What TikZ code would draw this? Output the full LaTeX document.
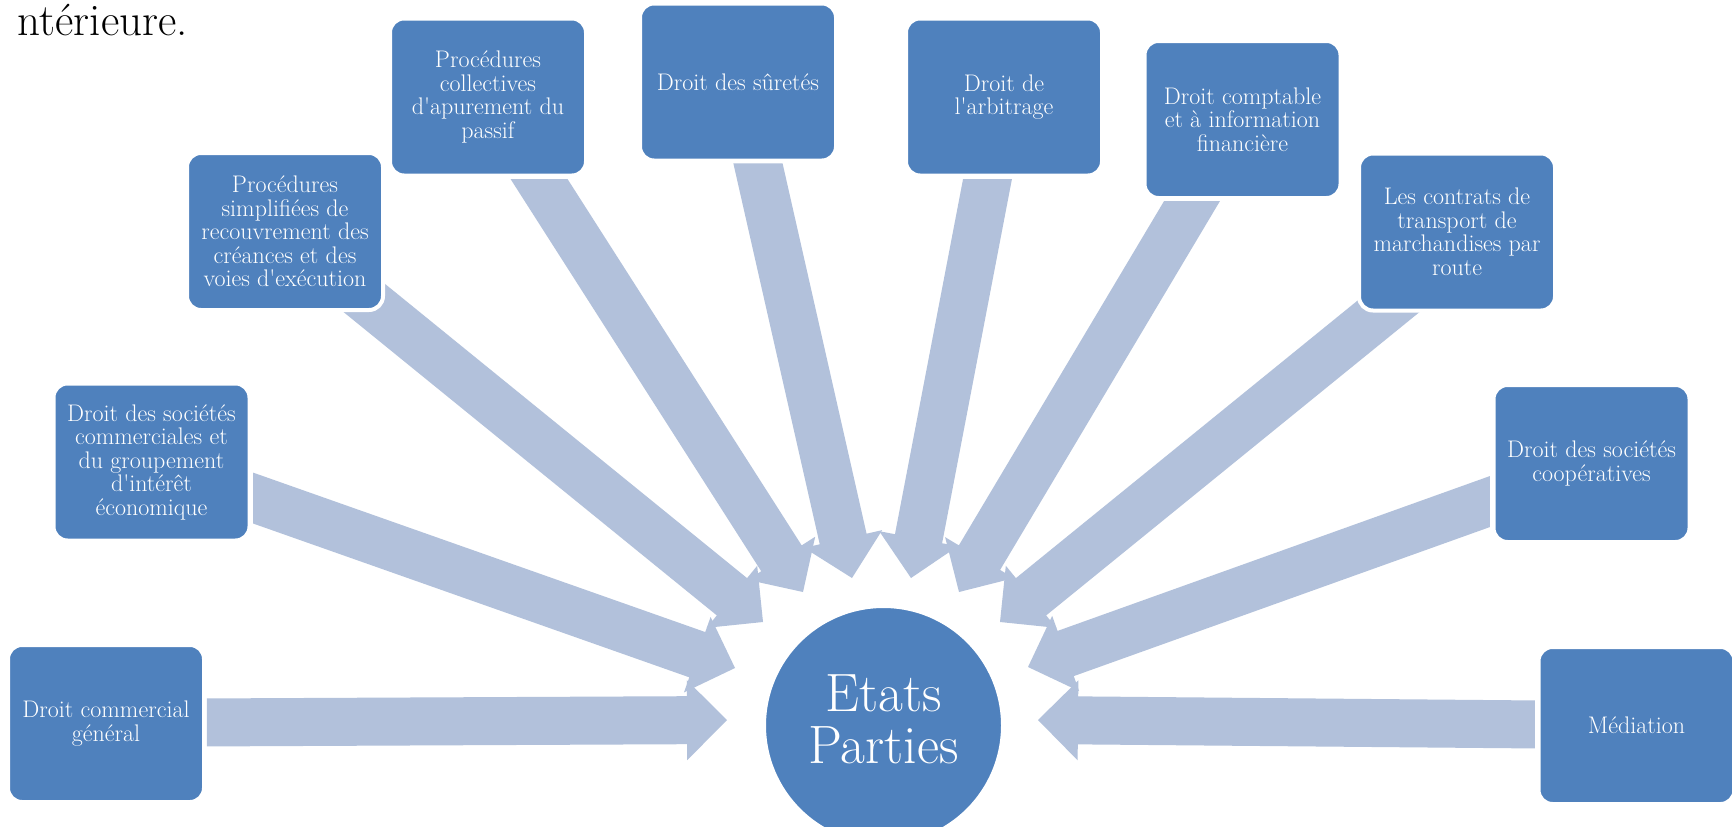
\documentclass[tikz,border=0pt]{standalone}
\usetikzlibrary{calc}
\definecolor{boxblue}{RGB}{79,129,189}
\definecolor{arrowblue}{RGB}{178,193,219}
\newcommand{\bigarrow}[3]{%
  \coordinate (bhA) at ($(#2)!40pt!(#1)$);
  \coordinate (bsA) at ($(bhA)!24pt!90:(#2)$);
  \coordinate (bsB) at ($(bhA)!24pt!-90:(#2)$);
  \coordinate (bwA) at ($(bhA)!40pt!90:(#2)$);
  \coordinate (bwB) at ($(bhA)!40pt!-90:(#2)$);
  \coordinate (btA) at ($(#1)!24pt!90:(#2)$);
  \coordinate (btB) at ($(#1)!24pt!-90:(#2)$);
  \coordinate (bcut) at ($(#1)+(#3)$);
  \coordinate (bcA) at (intersection of btA--bsA and #1--bcut);
  \coordinate (bcB) at (intersection of btB--bsB and #1--bcut);
  \fill[arrowblue] (bcA) -- (bsA) -- (bwA) -- (#2) -- (bwB) -- (bsB) -- (bcB) -- cycle;
}
\tikzset{
  topic/.style={rectangle, rounded corners=14pt, fill=boxblue, draw=white, line width=4pt,
    minimum width=196pt, minimum height=157pt, inner sep=2pt, text=white, align=center,
    font=\fontsize{24}{23.5}\selectfont},
  hub/.style={circle, fill=boxblue, draw=white, line width=4pt, minimum size=239pt,
    inner sep=0pt},
  hubtext/.style={text=white, align=center, inner sep=0pt, font=\fontsize{54}{52}\selectfont}
}
\begin{document}
\begin{tikzpicture}[x=1pt,y=-1pt]
\useasboundingbox (0,0) rectangle (1732,827);
\fill[white] (0,0) rectangle (1732,827);

% arrow tails and tips
\coordinate (t1) at (207,722.5);  \coordinate (p1) at (727,720);
\coordinate (t2) at (253,498);    \coordinate (p2) at (735,668);
\coordinate (t3) at (320,262);    \coordinate (p3) at (763,622);
\coordinate (t4) at (539,179);    \coordinate (p4) at (803,592);
\coordinate (t5) at (758,163.5);  \coordinate (p5) at (852,578);
\coordinate (t6) at (987.5,179);  \coordinate (p6) at (911,578);
\coordinate (t7) at (1192,201);   \coordinate (p7) at (959,592);
\coordinate (t8) at (1443,262);   \coordinate (p8) at (1000,622);
\coordinate (t9) at (1490,501.5); \coordinate (p9) at (1028,667);
\coordinate (t10) at (1535,724.5); \coordinate (p10) at (1038,720);

\bigarrow{t1}{p1}{0,10}
\bigarrow{t2}{p2}{0,10}
\bigarrow{t3}{p3}{0,10}
\bigarrow{t4}{p4}{10,0}
\bigarrow{t5}{p5}{10,0}
\bigarrow{t6}{p6}{10,0}
\bigarrow{t7}{p7}{10,0}
\bigarrow{t8}{p8}{0,10}
\bigarrow{t9}{p9}{0,10}
\bigarrow{t10}{p10}{0,10}

\node[anchor=base east, font=\fontsize{45}{50}\selectfont, inner sep=0pt] (ti) at (188,35) {ntérieure.};

\node[topic] (b1) at (106,723.5) {Droit commercial\\général};
\node[topic] (b2) at (151.5,462) {Droit des sociétés\\commerciales et\\du groupement\\d\textquotesingle intérêt\\économique};
\node[topic] (b3) at (285,231.5) {Procédures\\simplifiées de\\recouvrement des\\créances et des\\voies d\textquotesingle exécution};
\node[topic] (b4) at (488,97) {Procédures\\collectives\\d\textquotesingle apurement du\\passif};
\node[topic] (b5) at (738,82) {Droit des sûretés};
\node[topic] (b6) at (1004,97) {Droit de\\l\textquotesingle arbitrage};
\node[topic] (b7) at (1242.5,119.5) {Droit comptable\\et à information\\financière};
\node[topic] (b8) at (1457,232) {Les contrats de\\transport de\\marchandises par\\route};
\node[topic] (b9) at (1591.5,463.5) {Droit des sociétés\\coopératives};
\node[topic] (b10) at (1636.5,725.5) {Médiation};

\node[hub] (ep) at (883.5,725.5) {};
\node[hubtext] (eptext) at (883.5,719) {Etats\\Parties};
\end{tikzpicture}
\end{document}
